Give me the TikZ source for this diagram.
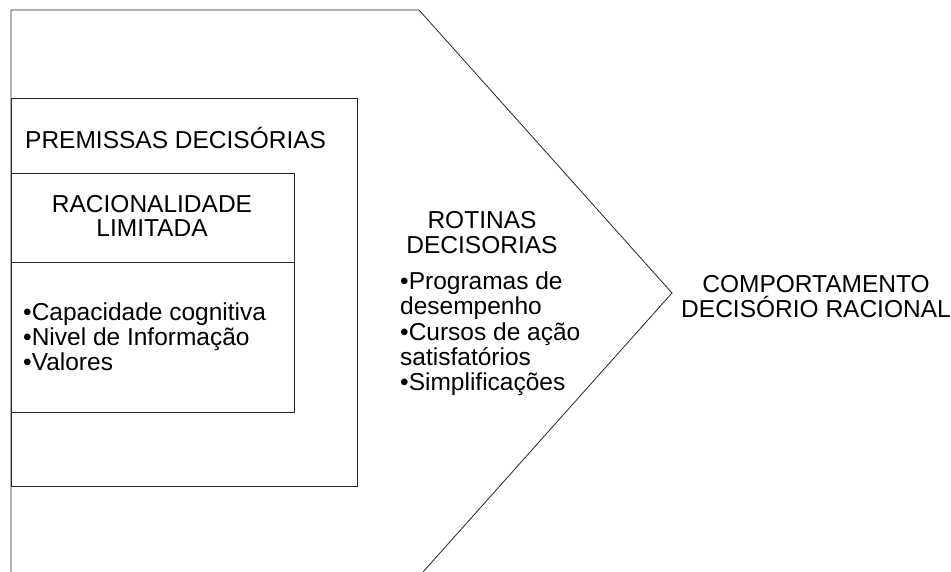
\documentclass[tikz,border=0pt]{standalone}
\usepackage{fontspec}
\setmainfont{Liberation Sans}

\begin{document}
\begin{tikzpicture}[x=1pt,y=-1pt,
    txt/.style={inner sep=0pt, anchor=base, font=\fontsize{24.5}{25}\selectfont},
    txtl/.style={txt, anchor=base west},
    frame/.style={draw=black!85, line width=0.8pt}]
    \useasboundingbox (0,0) rectangle (951,572);
    % outer chevron
    \coordinate (tl) at (11,10);
    \coordinate (bl) at (11,572);
    \coordinate (tr) at (419,10);
    \coordinate (tip) at (672,293);
    \coordinate (br) at (423,572);
    \draw[frame] (bl)--(tl)--(tr)--(tip)--(br);
    % premissas and racionalidade boxes
    \draw[frame] (11,98) rectangle (357,486);
    \draw[frame] (11,173) rectangle (294,412);
    \draw[frame] (11,262)--(294,262);
    \node[txtl] (premissas) at (25,149) {PREMISSAS DECISÓRIAS};
    \node[txt] (racional) at (152,213) {RACIONALIDADE};
    \node[txt] (limitada) at (152,237) {LIMITADA};
    \node[txtl] (capacidade) at (23,320) {•Capacidade cognitiva};
    \node[txtl] (nivel) at (23,345) {•Nivel de Informação};
    \node[txtl] (valores) at (23,370) {•Valores};
    % rotinas
    \node[txt] (rotinas) at (482,229) {ROTINAS};
    \node[txt] (decisorias) at (482,254) {DECISORIAS};
    \node[txtl] (programas) at (400,290) {•Programas de};
    \node[txtl] (desempenho) at (400,315) {desempenho};
    \node[txtl] (cursos) at (400,340) {•Cursos de ação};
    \node[txtl] (satisf) at (400,365) {satisfatórios};
    \node[txtl] (simplif) at (400,390) {•Simplificações};
    % comportamento
    \node[txt] (comport) at (816,292) {COMPORTAMENTO};
    \node[txt] (racionalc) at (816,317) {DECISÓRIO RACIONAL};
\end{tikzpicture}
\end{document}
